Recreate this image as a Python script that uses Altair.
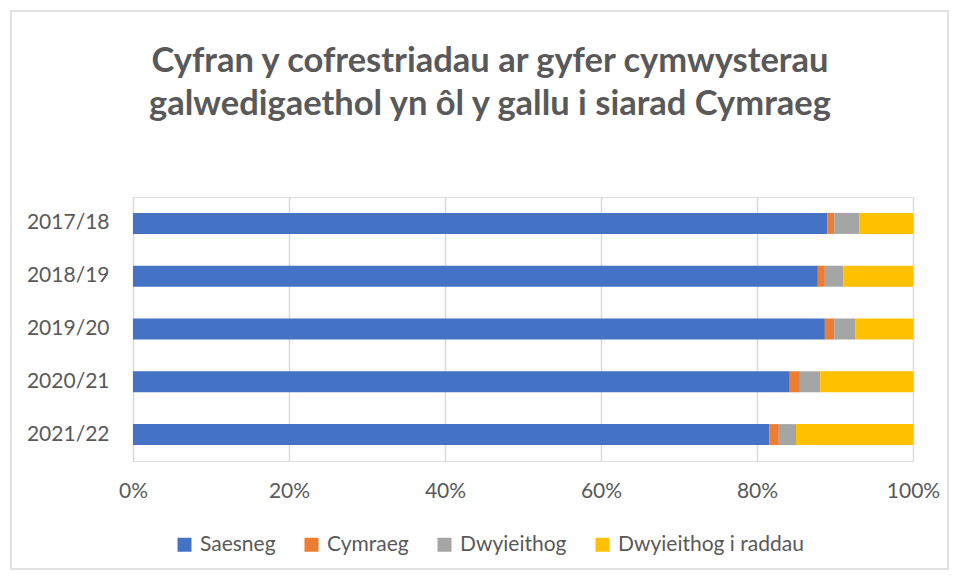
import altair as alt
import pandas as pd

years = ["2017/18", "2018/19", "2019/20", "2020/21", "2021/22"]
series = ["Saesneg", "Cymraeg", "Dwyieithog", "Dwyieithog i raddau"]
colors = ["#4472C4", "#ED7D31", "#A5A5A5", "#FFC000"]
saesneg = [89.0, 87.8, 88.7, 84.2, 81.6]
cymraeg = [0.9, 0.9, 1.2, 1.3, 1.2]
dwyieithog = [3.2, 2.4, 2.7, 2.6, 2.2]
i_raddau = [6.9, 8.9, 7.4, 11.9, 15.0]

rows = []
for i, y in enumerate(years):
    for k, (s, vals) in enumerate(zip(series, [saesneg, cymraeg, dwyieithog, i_raddau])):
        rows.append({"year": y, "series": s, "value": vals[i] / 100.0, "order": k})
df = pd.DataFrame(rows)

FONT = "Lato"
GREY = "#595959"

bars = alt.Chart(df).mark_bar(size=21).encode(
    y=alt.Y("year:N", sort=years, title=None,
            scale=alt.Scale(paddingInner=0.6, paddingOuter=0.3),
            axis=alt.Axis(labelFontSize=21, labelColor=GREY, labelFont=FONT,
                          ticks=False, domain=False, labelPadding=24)),
    x=alt.X("value:Q", stack="normalize", title=None,
            scale=alt.Scale(domain=[0, 1], nice=False),
            axis=alt.Axis(format="%", values=[0, 0.2, 0.4, 0.6, 0.8, 1.0],
                          labelFontSize=21, labelColor=GREY, labelFont=FONT,
                          labelFlush=False,
                          ticks=False, domain=False, labelPadding=19,
                          grid=True, gridColor="#d9d9d9", gridWidth=1.5)),
    color=alt.Color("series:N", sort=series,
                    scale=alt.Scale(domain=series, range=colors),
                    legend=alt.Legend(title=None, orient="none", direction="horizontal",
                                      legendX=41, legendY=337,
                                      symbolType="square", symbolSize=196,
                                      symbolStrokeWidth=0, labelLimit=400,
                                      labelFontSize=21, labelColor=GREY, labelFont=FONT,
                                      columnPadding=25, labelOffset=5)),
    order=alt.Order("order:Q"),
)

frame = alt.Chart(pd.DataFrame({"a": [0]})).mark_rect(
    fill=None, stroke="#d9d9d9", strokeWidth=1.5
).encode(
    x=alt.value(-122), x2=alt.value(815), y=alt.value(-186), y2=alt.value(372)
)

chart = alt.layer(frame, bars).properties(
    width=780, height=264,
    autosize="none",
    padding={"left": 125, "top": 189, "right": 36, "bottom": 110},
    title=alt.TitleParams(
        text=["Cyfran y cofrestriadau ar gyfer cymwysterau",
              "galwedigaethol yn ôl y gallu i siarad Cymraeg"],
        font=FONT, fontSize=34.5, fontWeight="bold", color=GREY,
        anchor="middle", dx=-33, offset=-112, lineHeight=43,
    ),
).configure_view(stroke=None).configure(background="white")

chart.save("out.html", embed_options={"renderer": "svg", "actions": False})
